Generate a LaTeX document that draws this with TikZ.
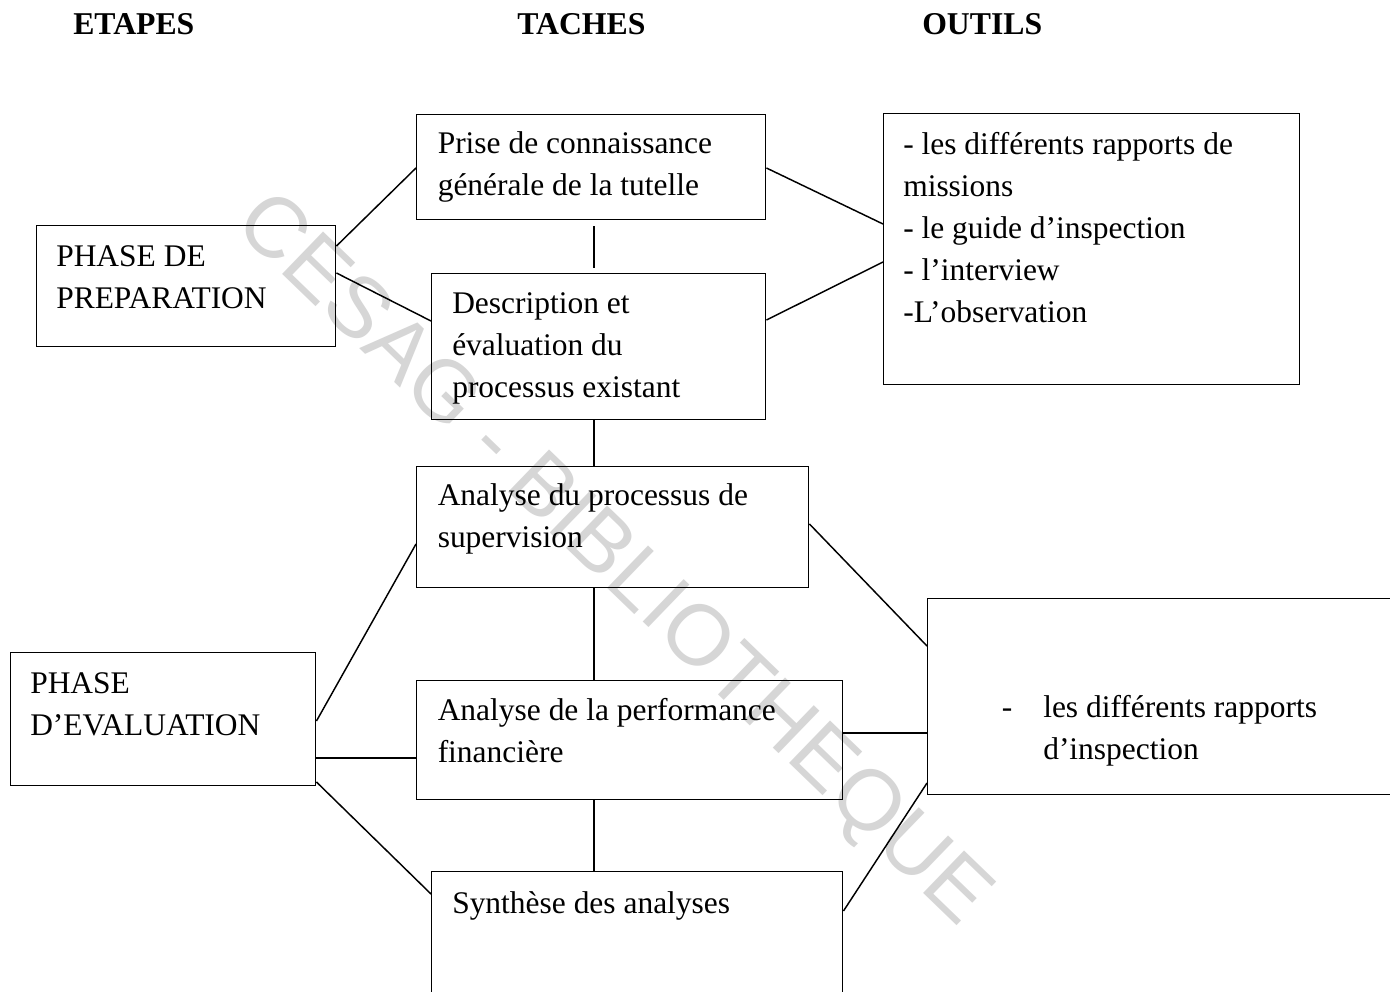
\documentclass[tikz,border=0pt]{standalone}
\usepackage{fontspec}
\setmainfont{Liberation Serif}
\newfontfamily\wmfont{Liberation Sans}
\usetikzlibrary{calc}
\definecolor{wm}{RGB}{214,214,214}
\tikzset{
  box/.style={draw, line width=1.1pt, inner sep=0pt, anchor=north west},
  txt/.style={inner sep=0pt, anchor=base west, font=\fontsize{23.6pt}{31.5pt}\selectfont},
  head/.style={inner sep=0pt, anchor=base west, font=\fontsize{23.8pt}{31.5pt}\selectfont\bfseries},
  conn/.style={line width=1.1pt}
}
\newcommand{\lines}[1]{\begin{tabular}[t]{@{}l@{}}#1\end{tabular}}
\begin{document}
\begin{tikzpicture}[x=0.75pt,y=-0.75pt]
\clip (0,0) rectangle (1390,992);
\fill[white] (0,0) rectangle (1390,992);
% watermark
\node[inner sep=0pt, anchor=base, rotate=-44, text=wm, font=\fontsize{64.3pt}{64.3pt}\wmfont] (wmark) at (596,577) {CESAG - BIBLIOTHEQUE};
% headers
\node[head] (hetapes) at (73,35) {ETAPES};
\node[head] (htaches) at (517,35) {TACHES};
\node[head] (houtils) at (922,35) {OUTILS};
% boxes
\node[box, minimum width=299*0.75pt, minimum height=121*0.75pt] (prep) at (36,225) {};
\node[box, minimum width=349*0.75pt, minimum height=105*0.75pt] (prise) at (416,114) {};
\node[box, minimum width=334*0.75pt, minimum height=146*0.75pt] (desc) at (431,273) {};
\node[box, minimum width=416*0.75pt, minimum height=271*0.75pt] (outils) at (883,113) {};
\node[box, minimum width=392*0.75pt, minimum height=121*0.75pt] (analyse) at (416,466) {};
\node[box, minimum width=305*0.75pt, minimum height=133*0.75pt] (eval) at (10,652) {};
\node[box, minimum width=426*0.75pt, minimum height=119*0.75pt] (perf) at (416,680) {};
\node[box, minimum width=411*0.75pt, minimum height=150*0.75pt] (synth) at (431,871) {};
\node[box, minimum width=500*0.75pt, minimum height=196*0.75pt] (insp) at (927,598) {};
% texts
\node[txt] (prepT) at ($(prep.north west)+(20,41)$) {\lines{PHASE DE\\PREPARATION}};
\node[txt] (priseT) at ($(prise.north west)+(21.5,39)$) {\lines{Prise de connaissance\\générale de la tutelle}};
\node[txt] (descT) at ($(desc.north west)+(21,40)$) {\lines{Description et\\évaluation du\\processus existant}};
\node[txt] (outilsT) at ($(outils.north west)+(20,41)$) {\lines{- les différents rapports de\\missions\\- le guide d’inspection\\- l’interview\\-L’observation}};
\node[txt] (analyseT) at ($(analyse.north west)+(21.5,39)$) {\lines{Analyse du processus de\\supervision}};
\node[txt] (evalT) at ($(eval.north west)+(20,41)$) {\lines{PHASE\\D’EVALUATION}};
\node[txt] (perfT) at ($(perf.north west)+(21.5,40)$) {\lines{Analyse de la performance\\financière}};
\node[txt] (synthT) at ($(synth.north west)+(21,42)$) {Synthèse des analyses};
\node[txt] (inspD) at ($(insp.north west)+(74.5,119)$) {-};
\node[txt] (inspT) at ($(insp.north west)+(116,119)$) {\lines{les différents rapports\\d’inspection}};
% connectors
\draw[conn] ($(prep.north east)+(0,21)$) -- ($(prise.north west)+(0,54)$);
\draw[conn] ($(prep.north east)+(0,48)$) -- ($(desc.north west)+(0,48)$);
\draw[conn] ($(prise.north east)+(0,54)$) -- ($(outils.north west)+(0,111)$);
\draw[conn] ($(desc.north east)+(0,47)$) -- ($(outils.north west)+(0,149)$);
\draw[conn] ($(prise.south west)+(178,6)$) -- ($(desc.north west)+(163,-5)$);
\draw[conn] ($(desc.south west)+(163,0)$) -- ($(analyse.north west)+(178,0)$);
\draw[conn] ($(analyse.south west)+(178,0)$) -- ($(perf.north west)+(178,0)$);
\draw[conn] ($(perf.south west)+(178,0)$) -- ($(synth.north west)+(163,0)$);
\draw[conn] ($(eval.north east)+(0,69)$) -- ($(analyse.north west)+(0,78)$);
\draw[conn] ($(eval.north east)+(0,106)$) -- ($(perf.north west)+(0,78)$);
\draw[conn] ($(eval.north east)+(0,130)$) -- ($(synth.north west)+(0,23)$);
\draw[conn] ($(analyse.north east)+(0,58)$) -- ($(insp.north west)+(0,48)$);
\draw[conn] ($(perf.north east)+(0,53)$) -- ($(insp.north west)+(0,135)$);
\draw[conn] ($(synth.north east)+(0,40)$) -- ($(insp.north west)+(0,185)$);
\end{tikzpicture}
\end{document}
